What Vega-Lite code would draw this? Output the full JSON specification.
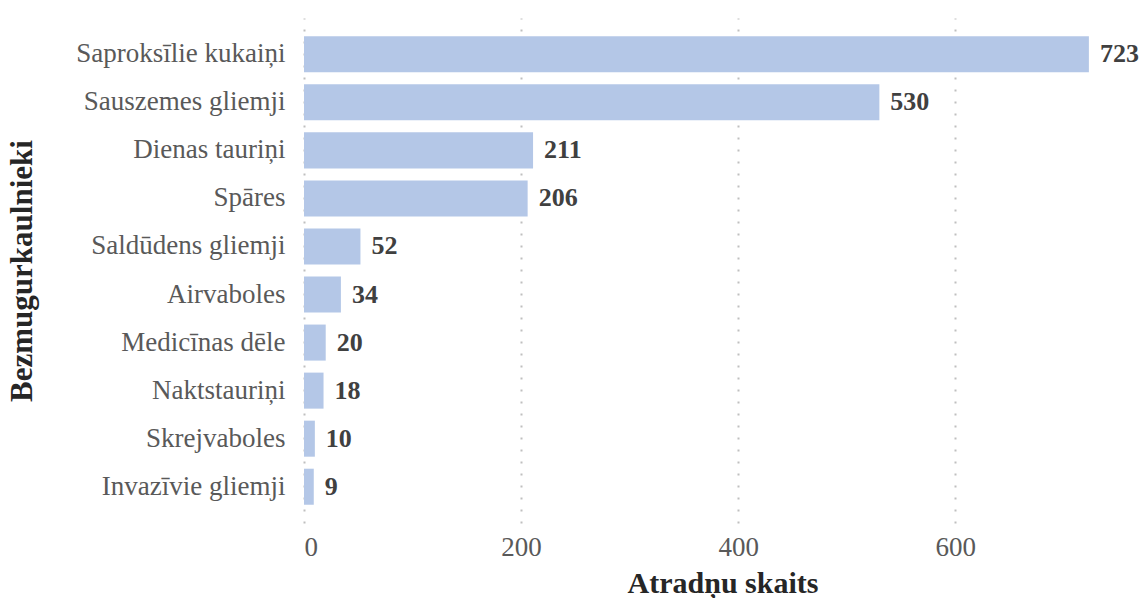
{
  "$schema": "https://vega.github.io/schema/vega-lite/v6.json",
  "autosize": {"type": "none"},
  "padding": {"left": 304, "top": 18, "right": 0, "bottom": 75},
  "width": 837,
  "height": 505,
  "background": "white",
  "config": {
    "font": "Liberation Serif",
    "view": {"stroke": null}
  },
  "data": {
    "values": [
      {"group": "Saproksīlie kukaiņi", "count": 723},
      {"group": "Sauszemes gliemji", "count": 530},
      {"group": "Dienas tauriņi", "count": 211},
      {"group": "Spāres", "count": 206},
      {"group": "Saldūdens gliemji", "count": 52},
      {"group": "Airvaboles", "count": 34},
      {"group": "Medicīnas dēle", "count": 20},
      {"group": "Naktstauriņi", "count": 18},
      {"group": "Skrejvaboles", "count": 10},
      {"group": "Invazīvie gliemji", "count": 9}
    ]
  },
  "encoding": {
    "y": {
      "field": "group",
      "type": "nominal",
      "sort": null,
      "scale": {"paddingInner": 0.25, "paddingOuter": 0.38},
      "axis": {
        "title": "Bezmugurkaulnieki",
        "titleFont": "Liberation Serif",
        "titleFontSize": 31,
        "titleFontWeight": "bold",
        "titleColor": "#262626",
        "titleX": -282,
        "titleAngle": -90,
        "titleBaseline": "middle",
        "labelFont": "Liberation Serif",
        "labelFontSize": 27,
        "labelColor": "#595959",
        "labelPadding": 19,
        "labelLimit": 300,
        "ticks": false,
        "domain": false
      }
    },
    "x": {
      "field": "count",
      "type": "quantitative",
      "scale": {"domain": [0, 771], "nice": false},
      "axis": {
        "values": [0, 200, 400, 600],
        "title": "Atradņu skaits",
        "titleFont": "Liberation Serif",
        "titleFontSize": 30,
        "titleFontWeight": "bold",
        "titleColor": "#262626",
        "titleY": 60,
        "titleBaseline": "middle",
        "labelFont": "Liberation Serif",
        "labelFontSize": 27,
        "labelColor": "#595959",
        "labelPadding": 11,
        "ticks": false,
        "domain": false,
        "grid": true,
        "gridColor": "#bfbfbf",
        "gridDash": [2, 10],
        "gridWidth": 2
      }
    }
  },
  "layer": [
    {"mark": {"type": "bar", "color": "#b4c7e7"}},
    {
      "mark": {"type": "text", "align": "left", "baseline": "middle", "dx": 11, "fontSize": 26, "fontWeight": "bold", "color": "#404040", "font": "Liberation Serif"},
      "encoding": {"text": {"field": "count", "type": "quantitative"}}
    }
  ]
}
